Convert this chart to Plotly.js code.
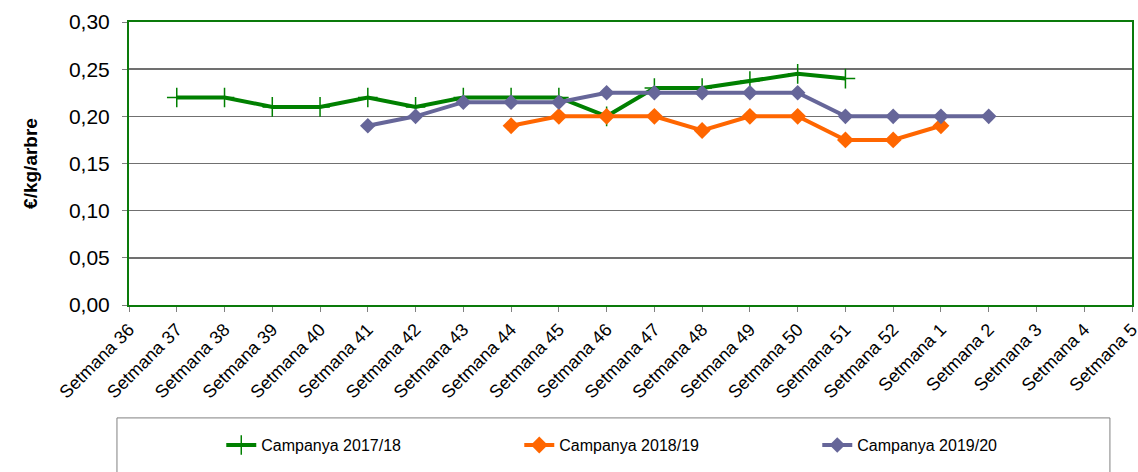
<!DOCTYPE html>
<html>
<head>
<meta charset="utf-8">
<script src="https://cdn.plot.ly/plotly-3.0.1.min.js"></script>
<style>html,body{margin:0;padding:0;background:#fff;}#chart{width:1138px;height:472px;}</style>
</head>
<body>
<div id="chart"></div>
<script>
const weeks = ["Setmana 36","Setmana 37","Setmana 38","Setmana 39","Setmana 40","Setmana 41","Setmana 42","Setmana 43","Setmana 44","Setmana 45","Setmana 46","Setmana 47","Setmana 48","Setmana 49","Setmana 50","Setmana 51","Setmana 52","Setmana 1","Setmana 2","Setmana 3","Setmana 4","Setmana 5"];
const camp1718 = [null,0.22,0.22,0.21,0.21,0.22,0.21,0.22,0.22,0.22,0.20,0.23,0.23,0.2375,0.245,0.24,null,null,null,null,null,null];
const camp1819 = [null,null,null,null,null,null,null,null,0.19,0.20,0.20,0.20,0.185,0.20,0.20,0.175,0.175,0.19,null,null,null,null];
const camp1920 = [null,null,null,null,null,0.19,0.20,0.215,0.215,0.215,0.225,0.225,0.225,0.225,0.225,0.20,0.20,0.20,0.20,null,null,null];
const seriesNames = ["Campanya 2017/18","Campanya 2018/19","Campanya 2019/20"];

const FONT = "Liberation Sans, Arial, sans-serif";
const traces = [
  {x: weeks, y: camp1718, name: seriesNames[0], type: "scatter", mode: "lines+markers",
   line: {color: "#008000", width: 4},
   marker: {symbol: "cross-thin", size: 14, color: "#008000", line: {color: "#008000", width: 1.5}}},
  {x: weeks, y: camp1819, name: seriesNames[1], type: "scatter", mode: "lines+markers",
   line: {color: "#FF6600", width: 4},
   marker: {symbol: "diamond", size: 13, color: "#FF6600"}},
  {x: weeks, y: camp1920, name: seriesNames[2], type: "scatter", mode: "lines+markers",
   line: {color: "#666699", width: 4},
   marker: {symbol: "diamond", size: 12, color: "#666699"}}
];

const layout = {
  width: 1138, height: 472,
  margin: {l: 129, r: 6, t: 22, b: 167},
  paper_bgcolor: "#fff", plot_bgcolor: "#fff",
  separators: ",.",
  font: {family: FONT, color: "#000", size: 16},
  showlegend: true,
  legend: {orientation: "h", x: 0.092, y: -0.495, xanchor: "left", yanchor: "middle",
    font: {family: FONT, size: 16, color: "#000"},
    entrywidth: 253, entrywidthmode: "pixels", bgcolor: "rgba(0,0,0,0)", traceorder: "normal"},
  xaxis: {type: "category", categoryorder: "array", categoryarray: weeks,
    range: [0, 21], tickangle: -45, tickfont: {family: FONT, size: 18, color: "#000"},
    showgrid: false, showline: true, linecolor: "#0a7a0a", linewidth: 2, mirror: true,
    ticks: "outside", ticklen: 5, tickcolor: "#808080", tickwidth: 1, zeroline: false, fixedrange: true},
  yaxis: {range: [0, 0.30], dtick: 0.05, tick0: 0, tickformat: ".2f",
    tickfont: {family: FONT, size: 21, color: "#000"}, ticklabelstandoff: 8,
    showgrid: true, gridcolor: "#707070", gridwidth: 1.5,
    showline: true, linecolor: "#0a7a0a", linewidth: 2, mirror: true,
    ticks: "outside", ticklen: 5, tickcolor: "#808080", tickwidth: 1, zeroline: false,
    title: {text: "<b>€/kg/arbre</b>", font: {family: FONT, size: 19, color: "#000"}, standoff: 26},
    automargin: false, fixedrange: true},
  shapes: [
    {type: "rect", xref: "paper", yref: "paper", x0: -0.012, x1: 0.978, y0: -0.399, y1: -0.75,
     line: {color: "#808080", width: 1}, fillcolor: "rgba(0,0,0,0)", layer: "below"}
  ]
};
Plotly.newPlot("chart", traces, layout, {displayModeBar: false, staticPlot: true});
</script>
</body>
</html>
